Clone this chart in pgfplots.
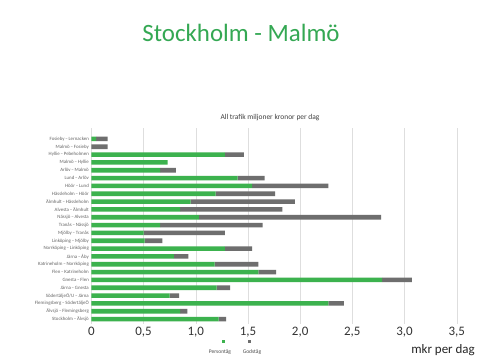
\documentclass[border=0pt]{standalone}
\usepackage{pgfplots}
\pgfplotsset{compat=1.18}
\usepackage{fontspec}
\setmainfont{Carlito}
\definecolor{pgreen}{RGB}{60,178,78}
\definecolor{ggrey}{RGB}{110,110,110}
\definecolor{tgreen}{RGB}{52,168,83}
\begin{document}
\begin{tikzpicture}[x=1bp,y=1bp]
\path[use as bounding box,fill=white] (0,0) rectangle (480,360);
\begin{axis}[
  at={(87.5,46.3)}, anchor=south west,
  scale only axis, width=370.6bp, height=196bp,
  xbar stacked, bar width=4.6bp,
  xmin=0, xmax=3.55, ymin=-0.6, ymax=24.43,
  axis line style={draw=none},
  xtick={0,0.5,1,1.5,2,2.5,3,3.5},
  xticklabels={0,{0,5},{1,0},{1,5},{2,0},{2,5},{3,0},{3,5}},
  xmajorgrids, major grid style={draw=black!13},
  tick style={draw=none},
  ytick={0,...,23},
  yticklabels={Stockholm\,–\,Älvsjö,Älvsjö\,–\,Flemingsberg,Flemingsberg\,–\,SödertäljeÖ,SödertäljeÖ/U\,–\,Järna,Järna\,–\,Gnesta,Gnesta\,–\,Flen,Flen\,–\,Katrineholm,Katrineholm\,–\,Norrköping,Järna\,–\,Åby,Norrköping\,–\,Linköping,Linköping\,–\,Mjölby,Mjölby\,–\,Tranås,Tranås\,–\,Nässjö,Nässjö\,–\,Alvesta,Alvesta\,–\,Älmhult,Älmhult\,–\,Hässleholm,Hässleholm\,–\,Höör,Höör\,–\,Lund,Lund\,–\,Arlöv,Arlöv\,–\,Malmö,Malmö\,–\,Hyllie,Hyllie\,–\,Pebeholmen,Malmö\,–\,Fosieby,Fosieby\,–\,Lernacken},
  yticklabel style={font=\fontsize{4.9}{5.5}\selectfont, text=black!60, xshift=1bp},
  xticklabel style={font=\fontsize{13}{13}\selectfont, text=black!80, yshift=0bp},
  /pgf/number format/assume math mode=true,
]
\addplot[fill=pgreen, draw=none] coordinates {
(1.22,0) (0.85,1) (2.27,2) (0.75,3) (1.20,4) (2.785,5) (1.60,6) (1.18,7)
(0.79,8) (1.28,9) (0.51,10) (0.50,11) (0.66,12) (1.03,13) (0.85,14) (0.95,15)
(1.19,16) (1.54,17) (1.40,18) (0.66,19) (0.73,20) (1.28,21) (0.0,22) (0.045,23)};
\addplot[fill=ggrey, draw=none] coordinates {
(0.07,0) (0.07,1) (0.15,2) (0.09,3) (0.13,4) (0.285,5) (0.17,6) (0.42,7)
(0.14,8) (0.26,9) (0.17,10) (0.78,11) (0.98,12) (1.745,13) (0.98,14) (1.00,15)
(0.57,16) (0.73,17) (0.26,18) (0.15,19) (0.0,20) (0.18,21) (0.155,22) (0.11,23)};
\end{axis}
\node[text=tgreen, font=\fontsize{25}{25}\selectfont] at (241,327) {Stockholm - Malmö};
\node[text=black!75, font=\fontsize{7.5}{8}\selectfont] at (270,242) {All trafik miljoner kronor per dag};
\fill[pgreen] (221.5,17.5) rectangle (224.5,20.5);
\fill[ggrey] (247.5,17.5) rectangle (250.5,20.5);
\node[text=black!70, font=\fontsize{5.5}{6}\selectfont] at (220,8) {Persontåg};
\node[text=black!70, font=\fontsize{5.5}{6}\selectfont] at (252,8) {Godståg};
\node[text=black!85, font=\fontsize{13}{13}\selectfont] at (443,10) {mkr per dag};
\end{tikzpicture}
\end{document}
